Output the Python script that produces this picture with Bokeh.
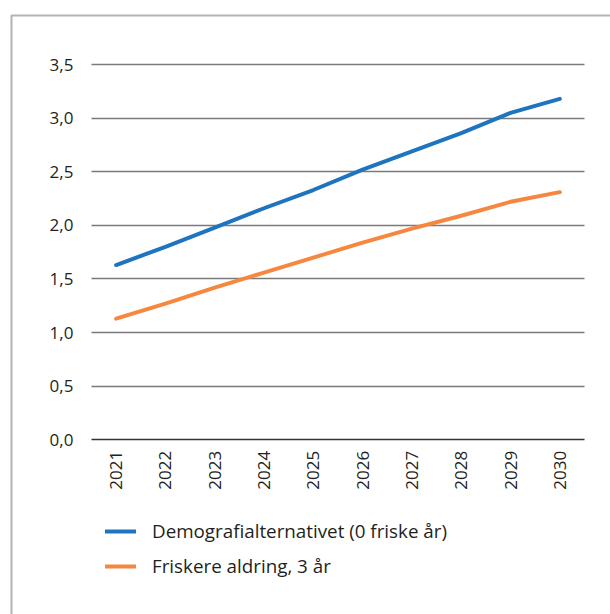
import math
from bokeh.plotting import figure
from bokeh.models import (Range1d, FixedTicker, Legend, LegendItem, Grid,
                          CustomJSTickFormatter, BoxAnnotation)
from bokeh.embed import file_html
from bokeh.resources import INLINE

# ---- data ----
years = [2021, 2022, 2023, 2024, 2025, 2026, 2027, 2028, 2029, 2030]
demografialternativet = [1.63, 1.80, 1.98, 2.16, 2.33, 2.52, 2.69, 2.86, 3.05, 3.18]
friskere_aldring = [1.13, 1.27, 1.42, 1.56, 1.70, 1.84, 1.97, 2.09, 2.22, 2.31]
y_ticks = [0.0, 0.5, 1.0, 1.5, 2.0, 2.5, 3.0, 3.5]
series_names = ["Demografialternativet (0 friske år)", "Friskere aldring, 3 år"]
series_colors = ["#1f74bf", "#f5873e"]

FONT = "Open Sans"
TEXT = "#231f20"

x_lo, x_hi = years[0] - 0.5, years[-1] + 0.5   # category band edges

p = figure(width=610, height=614, output_backend="svg", toolbar_location=None,
           x_range=Range1d(2018.655, 2031.028), y_range=Range1d(-1.630, 4.098),
           min_border=0, min_border_left=0, min_border_right=0,
           min_border_top=0, min_border_bottom=0)
p.outline_line_color = None
p.background_fill_color = "white"
p.border_fill_color = "white"

# y axis (drawn at the left edge of the category band)
p.yaxis.fixed_location = x_lo
p.yaxis.ticker = FixedTicker(ticks=y_ticks)
p.yaxis.formatter = CustomJSTickFormatter(code="return tick.toFixed(1).replace('.', ',');")
p.yaxis.axis_line_color = None
p.yaxis.major_tick_line_color = None
p.yaxis.minor_tick_line_color = None
p.yaxis.major_label_standoff = 12
p.yaxis.major_label_text_font = FONT
p.yaxis.major_label_text_font_size = "17px"
p.yaxis.major_label_text_color = TEXT

# x axis (drawn at y = 0)
p.xaxis.fixed_location = 0
p.xaxis.ticker = FixedTicker(ticks=years)
p.xaxis.axis_line_color = None
p.xaxis.major_tick_line_color = None
p.xaxis.minor_tick_line_color = None
p.xaxis.major_label_standoff = 5
p.xaxis.major_label_orientation = math.pi / 2
p.xaxis.major_label_text_font = FONT
p.xaxis.major_label_text_font_size = "17px"
p.xaxis.major_label_text_color = TEXT

# grid
p.xgrid.grid_line_color = None
ygrid = p.ygrid[0]
has_cross = "cross_bounds" in Grid.properties()
if has_cross:
    ygrid.ticker = FixedTicker(ticks=y_ticks[1:])
    ygrid.grid_line_color = "#7a7a7a"
    ygrid.grid_line_width = 1.3
    ygrid.cross_bounds = (x_lo, x_hi)
    zero = Grid(dimension=1, ticker=FixedTicker(ticks=[y_ticks[0]]),
                grid_line_color="#333333", grid_line_width=1.3,
                cross_bounds=(x_lo, x_hi))
    p.add_layout(zero)
else:
    ygrid.grid_line_color = None
    n = len(y_ticks)
    p.segment(x0=[x_lo] * n, x1=[x_hi] * n, y0=y_ticks, y1=y_ticks,
              line_color=["#333333"] + ["#7a7a7a"] * (n - 1), line_width=1.3)

r1 = p.line(years, demografialternativet, line_color=series_colors[0], line_width=4,
            line_cap="round", line_join="round")
r2 = p.line(years, friskere_aldring, line_color=series_colors[1], line_width=4,
            line_cap="round", line_join="round")

legend = Legend(items=[LegendItem(label=series_names[0], renderers=[r1]),
                       LegendItem(label=series_names[1], renderers=[r2])],
                location=(105, 35))
legend.border_line_color = None
legend.background_fill_alpha = 0
legend.padding = 0
legend.margin = 0
legend.spacing = 9
legend.glyph_width = 31
legend.glyph_height = 22
legend.label_height = 22
legend.label_standoff = 16
legend.label_text_font = FONT
legend.label_text_font_size = "18.8px"
legend.label_text_color = TEXT
p.add_layout(legend)

# outer frame: box whose left and top edges are visible
p.add_layout(BoxAnnotation(left=11, right=900, top=15, bottom=900,
                           left_units="canvas", right_units="canvas",
                           top_units="canvas", bottom_units="canvas",
                           fill_alpha=0, line_color="black", line_width=2,
                           level="overlay"))

open("out.html", "w").write(file_html(p, INLINE))
